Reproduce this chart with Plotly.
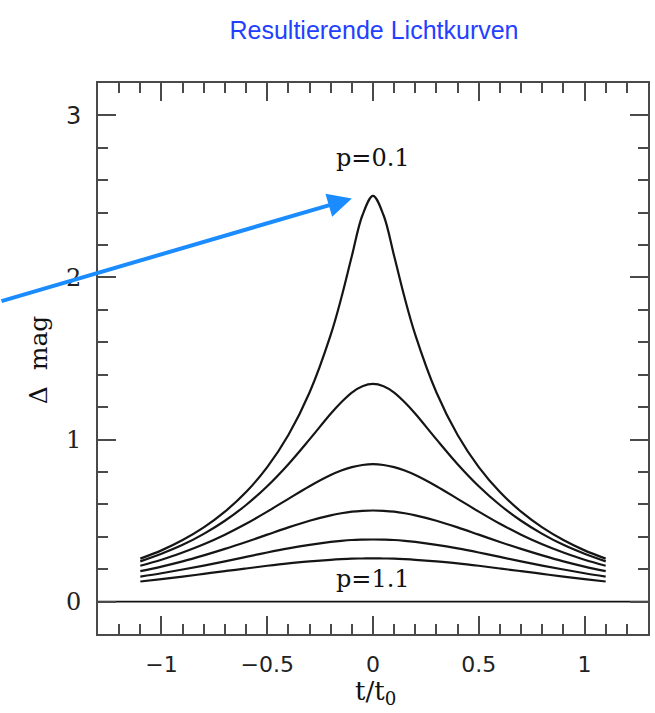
import plotly.graph_objects as go

# time axis (t / t0)
t = [-1.1, -1.0, -0.9, -0.8, -0.7, -0.6, -0.5, -0.4, -0.3, -0.2, -0.15, -0.1, -0.05,
     0.0, 0.05, 0.1, 0.15, 0.2, 0.3, 0.4, 0.5, 0.6, 0.7, 0.8, 0.9, 1.0, 1.1]

# Delta mag
dm_p01 = [0.265, 0.316, 0.380, 0.458, 0.555, 0.676, 0.830, 1.028, 1.290, 1.646, 1.873, 2.132, 2.384,
          2.504, 2.384, 2.132, 1.873, 1.646, 1.290, 1.028, 0.830, 0.676, 0.555, 0.458, 0.380, 0.316, 0.265]
dm_p03 = [0.248, 0.295, 0.350, 0.418, 0.499, 0.596, 0.712, 0.848, 1.001, 1.159, 1.230, 1.290, 1.329,
          1.343, 1.329, 1.290, 1.230, 1.159, 1.001, 0.848, 0.712, 0.596, 0.499, 0.418, 0.350, 0.295, 0.248]
dm_p05 = [0.221, 0.258, 0.303, 0.354, 0.413, 0.480, 0.555, 0.634, 0.712, 0.781, 0.809, 0.830, 0.843,
          0.848, 0.843, 0.830, 0.809, 0.781, 0.712, 0.634, 0.555, 0.480, 0.413, 0.354, 0.303, 0.258, 0.221]
dm_p07 = [0.188, 0.216, 0.248, 0.285, 0.325, 0.368, 0.413, 0.458, 0.499, 0.532, 0.545, 0.555, 0.560,
          0.562, 0.560, 0.555, 0.545, 0.532, 0.499, 0.458, 0.413, 0.368, 0.325, 0.285, 0.248, 0.216, 0.188]
dm_p09 = [0.154, 0.175, 0.198, 0.222, 0.248, 0.276, 0.303, 0.328, 0.350, 0.368, 0.375, 0.380, 0.382,
          0.383, 0.382, 0.380, 0.375, 0.368, 0.350, 0.328, 0.303, 0.276, 0.248, 0.222, 0.198, 0.175, 0.154]
dm_p11 = [0.124, 0.139, 0.154, 0.171, 0.188, 0.204, 0.221, 0.236, 0.248, 0.258, 0.262, 0.265, 0.266,
          0.267, 0.266, 0.265, 0.262, 0.258, 0.248, 0.236, 0.221, 0.204, 0.188, 0.171, 0.154, 0.139, 0.124]

series = [dm_p01, dm_p03, dm_p05, dm_p07, dm_p09, dm_p11]

x_tickvals = [-1, -0.5, 0, 0.5, 1]
x_ticktext = ["\u22121", "\u22120.5", "0", "0.5", "1"]
y_tickvals = [0, 1, 2, 3]
y_ticktext = ["0", "1", "2", '<span style="font-family:DejaVu Sans">3</span>']

title_text = "Resultierende Lichtkurven"
label_top = "p=0.1"
label_bottom = "p=1.1"

fig = go.Figure()
for s in series:
    fig.add_trace(go.Scatter(x=t, y=s, mode="lines",
                             line=dict(color="#151515", width=2.2, shape="spline"),
                             showlegend=False, hoverinfo="skip"))

axis_common = dict(
    showline=True, linecolor="#4a4a4a", linewidth=2, mirror="ticks",
    ticks="inside", ticklen=18, tickwidth=2, tickcolor="#4a4a4a",
    showgrid=False, zeroline=False,
)

fig.update_xaxes(
    range=[-1.3, 1.3], tickvals=x_tickvals, ticktext=x_ticktext,
    tickfont=dict(family="DejaVu Sans", size=22, color="#222"),
    minor=dict(dtick=0.1, ticks="inside", ticklen=10, tickwidth=2, tickcolor="#4a4a4a", showgrid=False),
    ticklabelstandoff=10,
    **axis_common,
)
fig.update_yaxes(
    range=[-0.2, 3.2], tickvals=y_tickvals, ticktext=y_ticktext,
    tickfont=dict(family="DejaVu Serif", size=24, color="#222"),
    minor=dict(dtick=0.2, ticks="inside", ticklen=10, tickwidth=2, tickcolor="#4a4a4a", showgrid=False),
    ticklabelstandoff=10,
    **axis_common,
)

# horizontal zero line across the full frame
fig.add_shape(type="line", xref="x domain", yref="y", x0=0, x1=1, y0=0, y1=0,
              line=dict(color="#111111", width=1.8), layer="below")

fig.add_annotation(x=0, y=2.735, xref="x", yref="y", text=label_top, showarrow=False,
                   font=dict(family="DejaVu Serif", size=24, color="#111"))
fig.add_annotation(x=0, y=0.14, xref="x", yref="y", text=label_bottom, showarrow=False,
                   font=dict(family="DejaVu Serif", size=24, color="#111"))

# axis titles
fig.add_annotation(x=-0.109, y=0.497, xref="paper", yref="paper", text="\u0394  mag",
                   textangle=-90, showarrow=False, xanchor="center", yanchor="middle",
                   font=dict(family="DejaVu Serif", size=25, color="#111"))
fig.add_annotation(x=0.504, y=-0.107, xref="paper", yref="paper", text="t/t<sub>0</sub>",
                   showarrow=False, xanchor="center", yanchor="middle",
                   font=dict(family="DejaVu Serif", size=26, color="#111"))

# blue arrow pointing at the p=0.1 peak
fig.add_annotation(x=-0.1, y=2.487, xref="x", yref="y", text="", showarrow=True,
                   ax=-353, ay=103, axref="pixel", ayref="pixel",
                   arrowhead=2, arrowsize=1.2, arrowwidth=4, arrowcolor="#1a8cff")

fig.update_layout(
    width=655, height=713,
    margin=dict(l=98, r=5, t=83, b=79),
    paper_bgcolor="white", plot_bgcolor="white",
    title=dict(text=title_text, x=0.571, xanchor="center", y=0.958, yanchor="middle",
               font=dict(family="Liberation Sans", size=25, color="#2340ff")),
)

fig.write_html("out.html")
